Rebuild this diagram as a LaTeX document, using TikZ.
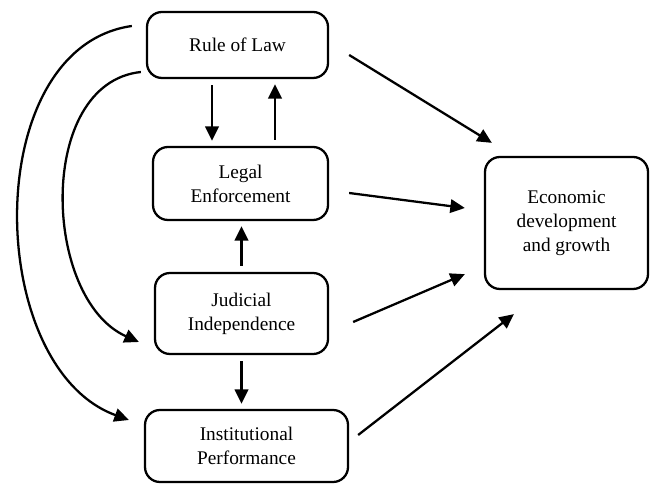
\documentclass[tikz,border=0pt]{standalone}
\usepackage{fontspec}
\setmainfont{Liberation Serif}
\usetikzlibrary{arrows.meta}
\tikzset{
  box/.style = {
    draw, line width=1.3pt, rounded corners=3mm, align=center,
    font=\fontsize{11}{13.6}\selectfont
  },
  arr/.style = {
    line width=1.3pt, -{Triangle[length=2.9mm, width=2.7mm]},
    shorten <=1.2mm, shorten >=1mm
  }
}

\begin{document}
\begin{tikzpicture}
    \useasboundingbox (0,0) rectangle (13.02,9.7);
    % les boites
    \path
      (4.75,8.8) node[box, minimum width=3.62cm, minimum height=1.32cm] (rule) {Rule of Law}
      (4.81,6.03) node[box, minimum width=3.5cm, minimum height=1.46cm] (legal) {Legal\\Enforcement}
      (4.83,3.43) node[box, minimum width=3.46cm, minimum height=1.62cm] (judicial) {Judicial\\Independence}
      (4.93,0.78) node[box, minimum width=4.06cm, minimum height=1.44cm] (inst) {Institutional\\Performance}
      (11.33,5.24) node[box, minimum width=3.26cm, minimum height=2.64cm] (econ) {Economic\\development\\and growth}
    ;
    % les fleches verticales
    \path
      ([xshift=-5.1mm]rule.south) edge[arr] ([xshift=-5.1mm]rule.south |- legal.north)
      ([xshift=6.9mm]legal.north) edge[arr] ([xshift=6.9mm]legal.north |- rule.south)
      (judicial.north) edge[arr] (judicial.north |- legal.south)
      (judicial.south) edge[arr] (judicial.south |- inst.north)
    ;
    % vers la croissance
    \path[arr, shorten <=0pt, shorten >=0pt]
      ([xshift=4mm, yshift=-2mm]rule.east) edge ([xshift=1.6mm, yshift=2.6mm]econ.north west)
      ([xshift=4mm, yshift=-1.9mm]legal.east) edge ([xshift=-3.8mm, yshift=3mm]econ.west)
      ([xshift=4.8mm, yshift=-1.7mm]judicial.east) edge ([xshift=-3.8mm, yshift=3.2mm]econ.south west)
      ([xshift=1.8mm, yshift=2.2mm]inst.east) edge ([xshift=6mm, yshift=-4.8mm]econ.south west)
    ;
    % les arcs a gauche
    \draw[arr, shorten <=0pt, shorten >=0pt]
      ([xshift=-2.8mm, yshift=3.8mm]rule.west) to[out=188, in=160] ([xshift=-3mm, yshift=5.2mm]inst.west);
    \draw[arr, shorten <=0pt, shorten >=0pt]
      ([xshift=-1mm, yshift=-5.4mm]rule.west) to[out=186, in=156] ([xshift=-3mm, yshift=-5.7mm]judicial.west);
\end{tikzpicture}
\end{document}
